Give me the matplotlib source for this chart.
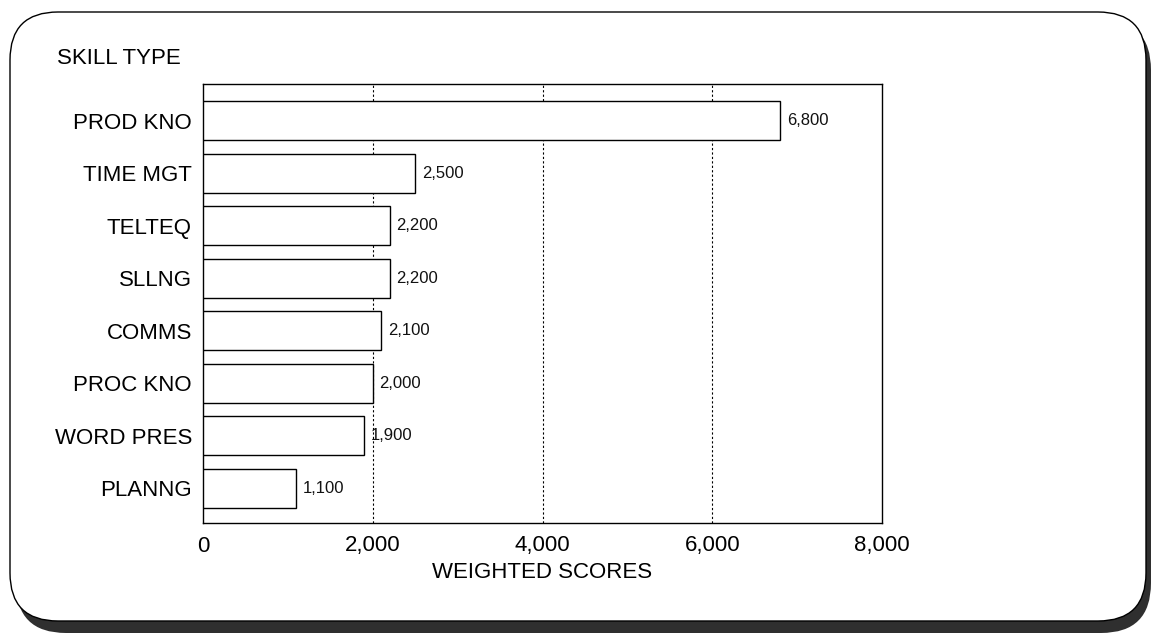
import matplotlib
matplotlib.use("Agg")
import matplotlib.pyplot as plt
from matplotlib.patches import FancyBboxPatch

plt.rcParams["font.family"] = ["Liberation Sans", "DejaVu Sans"]

# Skill categories, listed bottom to top
skills = ["PLANNG", "WORD PRES", "PROC KNO", "COMMS", "SLLNG", "TELTEQ", "TIME MGT", "PROD KNO"]
scores = [1100, 1900, 2000, 2100, 2200, 2200, 2500, 6800]
x_ticks = [0, 2000, 4000, 6000, 8000]
x_tick_labels = ["0", "2,000", "4,000", "6,000", "8,000"]

W, H = 1152, 634
fig = plt.figure(figsize=(W / 100, H / 100), dpi=100)
fig.patch.set_facecolor("white")

# Background layer in pixel units for the rounded panel and its drop shadow
bg = fig.add_axes([0, 0, 1, 1], zorder=0)
bg.set_xlim(0, W)
bg.set_ylim(H, 0)
bg.axis("off")
shadow = FancyBboxPatch((16, 20), 1151 - 16, 633 - 20,
                        boxstyle="round,pad=0,rounding_size=50",
                        facecolor="#2f2f2f", edgecolor="none")
bg.add_patch(shadow)
panel = FancyBboxPatch((10, 12), 1146 - 10, 621 - 12,
                       boxstyle="round,pad=0,rounding_size=48",
                       facecolor="white", edgecolor="black", linewidth=1.0)
bg.add_patch(panel)

# Main bar chart
ax = fig.add_axes([203 / W, 1 - 523 / H, (882 - 203) / W, (523 - 84) / H], zorder=1)
ax.set_facecolor("none")
ypos = list(range(len(skills)))
bars = ax.barh(ypos, scores, height=0.74, color="white", edgecolor="black",
               linewidth=1.0, zorder=3)

for b, v in zip(bars, scores):
    ax.text(b.get_width() + 80, b.get_y() + b.get_height() / 2, f"{v:,}",
            va="center", ha="left", fontsize=12, color="#111111", zorder=4)

ax.set_xlim(0, 8000)
ax.set_ylim(-0.66, 7.7)
ax.set_xticks(x_ticks)
ax.set_xticklabels(x_tick_labels, fontsize=16)
ax.set_yticks(ypos)
ax.set_yticklabels(skills, fontsize=16)
ax.tick_params(axis="y", direction="in", length=10, width=1.0, pad=8)
ax.tick_params(axis="x", length=0, pad=9)

for gx in x_ticks[1:-1]:
    ax.axvline(gx, color="black", linestyle=(0, (2, 2)), linewidth=0.8, zorder=1)

for s in ax.spines.values():
    s.set_linewidth(1.0)
    s.set_color("black")

ax.set_xlabel("WEIGHTED SCORES", fontsize=16, labelpad=4)
fig.text(57 / W, 1 - 58 / H, "SKILL TYPE", fontsize=16, ha="left", va="center")

fig.savefig("out.png", dpi=100, facecolor="white")
